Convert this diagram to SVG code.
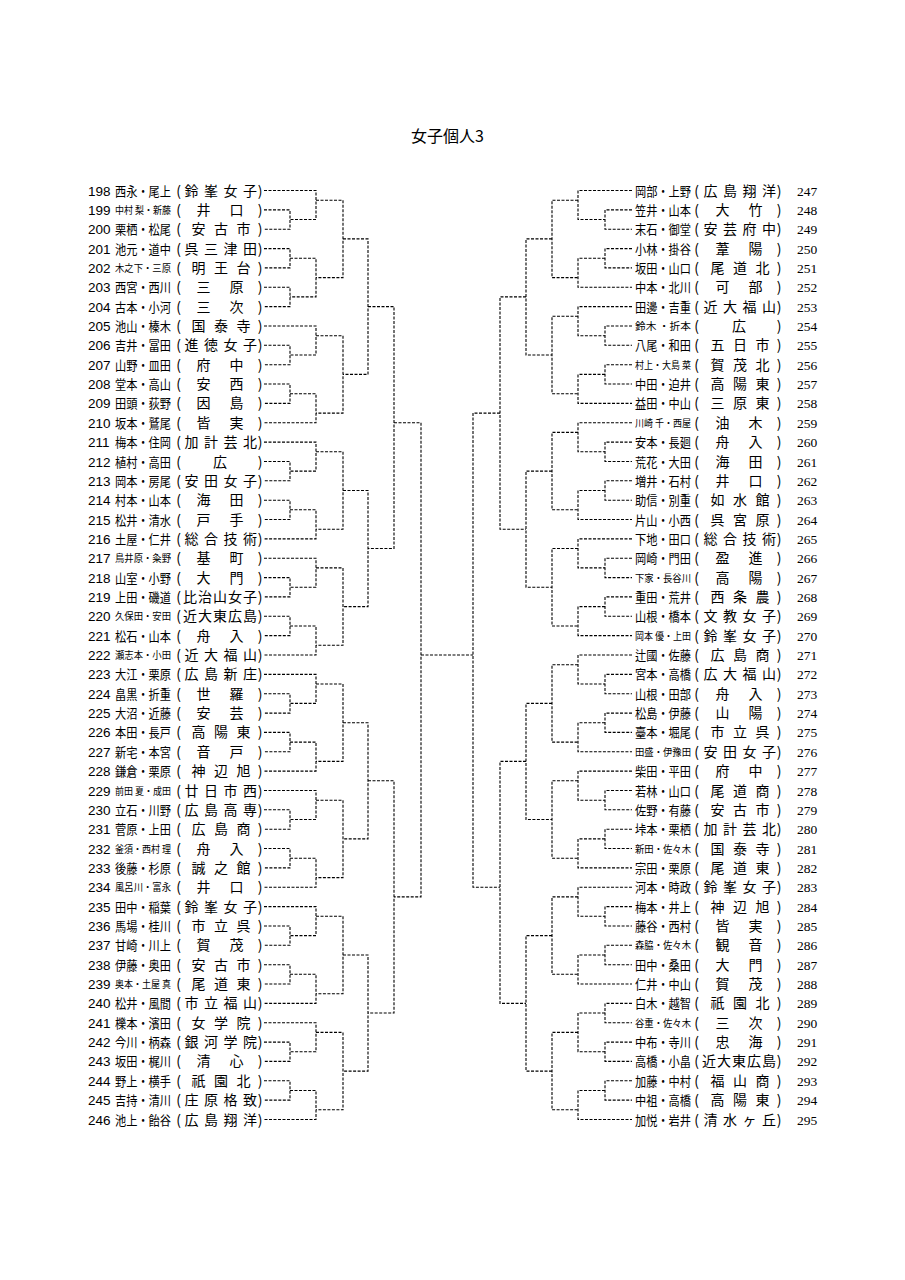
<svg xmlns="http://www.w3.org/2000/svg" width="905" height="1280" viewBox="0 0 905 1280">
<style>
.bg{fill:#fff}
.t{font-family:"Noto Sans CJK JP",sans-serif;font-size:16px;fill:#000}
.n{font-family:"Liberation Sans",sans-serif;font-size:13.5px;fill:#000}
.rn{font-family:"Liberation Serif",serif;font-size:13.5px;fill:#000}
.nm{font-family:"Noto Sans CJK JP",sans-serif;font-size:13px;fill:#000}
.s{font-size:10px}
.sc{font-family:"Noto Sans CJK JP",sans-serif;font-size:14px;text-anchor:middle;fill:#000}
.c path{fill:none;stroke:#000;stroke-width:1.1;stroke-dasharray:3 1.5}
</style>
<rect class="bg" x="0" y="0" width="905" height="1280"/>
<text id="title" class="t" x="411" y="142">女子個人3</text>
<g id="left">
<g id="n198" transform="translate(0,190.5)"><text class="n" x="88" y="5">198</text><text class="nm" x="115" y="5" textLength="56" lengthAdjust="spacingAndGlyphs">西永・尾上</text><text class="sc" x="178.5 191.5 211 230.5 250 260" y="5">(鈴峯女子)</text></g>
<g id="n199" transform="translate(0,209.9)"><text class="n" x="88" y="5">199</text><text class="nm s" x="115" y="4" textLength="56" lengthAdjust="spacingAndGlyphs">中村 梨・新藤</text><text class="sc" x="178.5 203.5 236.5 260" y="5">(井口)</text></g>
<g id="n200" transform="translate(0,229.2)"><text class="n" x="88" y="5">200</text><text class="nm" x="115" y="5" textLength="56" lengthAdjust="spacingAndGlyphs">栗栖・松尾</text><text class="sc" x="178.5 198.5 221 243.5 260" y="5">(安古市)</text></g>
<g id="n201" transform="translate(0,248.6)"><text class="n" x="88" y="5">201</text><text class="nm" x="115" y="5" textLength="56" lengthAdjust="spacingAndGlyphs">池元・道中</text><text class="sc" x="178.5 191.5 211 230.5 250 260" y="5">(呉三津田)</text></g>
<g id="n202" transform="translate(0,267.9)"><text class="n" x="88" y="5">202</text><text class="nm s" x="115" y="4" textLength="56" lengthAdjust="spacingAndGlyphs">木之下・三原</text><text class="sc" x="178.5 198.5 221 243.5 260" y="5">(明王台)</text></g>
<g id="n203" transform="translate(0,287.3)"><text class="n" x="88" y="5">203</text><text class="nm" x="115" y="5" textLength="56" lengthAdjust="spacingAndGlyphs">西宮・西川</text><text class="sc" x="178.5 203.5 236.5 260" y="5">(三原)</text></g>
<g id="n204" transform="translate(0,306.6)"><text class="n" x="88" y="5">204</text><text class="nm" x="115" y="5" textLength="56" lengthAdjust="spacingAndGlyphs">古本・小河</text><text class="sc" x="178.5 203.5 236.5 260" y="5">(三次)</text></g>
<g id="n205" transform="translate(0,326)"><text class="n" x="88" y="5">205</text><text class="nm" x="115" y="5" textLength="56" lengthAdjust="spacingAndGlyphs">池山・榛木</text><text class="sc" x="178.5 198.5 221 243.5 260" y="5">(国泰寺)</text></g>
<g id="n206" transform="translate(0,345.3)"><text class="n" x="88" y="5">206</text><text class="nm" x="115" y="5" textLength="56" lengthAdjust="spacingAndGlyphs">吉井・冨田</text><text class="sc" x="178.5 191.5 211 230.5 250 260" y="5">(進徳女子)</text></g>
<g id="n207" transform="translate(0,364.7)"><text class="n" x="88" y="5">207</text><text class="nm" x="115" y="5" textLength="56" lengthAdjust="spacingAndGlyphs">山野・皿田</text><text class="sc" x="178.5 203.5 236.5 260" y="5">(府中)</text></g>
<g id="n208" transform="translate(0,384)"><text class="n" x="88" y="5">208</text><text class="nm" x="115" y="5" textLength="56" lengthAdjust="spacingAndGlyphs">堂本・高山</text><text class="sc" x="178.5 203.5 236.5 260" y="5">(安西)</text></g>
<g id="n209" transform="translate(0,403.4)"><text class="n" x="88" y="5">209</text><text class="nm" x="115" y="5" textLength="56" lengthAdjust="spacingAndGlyphs">田頭・荻野</text><text class="sc" x="178.5 203.5 236.5 260" y="5">(因島)</text></g>
<g id="n210" transform="translate(0,422.7)"><text class="n" x="88" y="5">210</text><text class="nm" x="115" y="5" textLength="56" lengthAdjust="spacingAndGlyphs">坂本・鷲尾</text><text class="sc" x="178.5 203.5 236.5 260" y="5">(皆実)</text></g>
<g id="n211" transform="translate(0,442.1)"><text class="n" x="88" y="5">211</text><text class="nm" x="115" y="5" textLength="56" lengthAdjust="spacingAndGlyphs">梅本・住岡</text><text class="sc" x="178.5 191.5 211 230.5 250 260" y="5">(加計芸北)</text></g>
<g id="n212" transform="translate(0,461.5)"><text class="n" x="88" y="5">212</text><text class="nm" x="115" y="5" textLength="56" lengthAdjust="spacingAndGlyphs">植村・高田</text><text class="sc" x="178.5 220 260" y="5">(広)</text></g>
<g id="n213" transform="translate(0,480.8)"><text class="n" x="88" y="5">213</text><text class="nm" x="115" y="5" textLength="56" lengthAdjust="spacingAndGlyphs">岡本・房尾</text><text class="sc" x="178.5 191.5 211 230.5 250 260" y="5">(安田女子)</text></g>
<g id="n214" transform="translate(0,500.2)"><text class="n" x="88" y="5">214</text><text class="nm" x="115" y="5" textLength="56" lengthAdjust="spacingAndGlyphs">村本・山本</text><text class="sc" x="178.5 203.5 236.5 260" y="5">(海田)</text></g>
<g id="n215" transform="translate(0,519.5)"><text class="n" x="88" y="5">215</text><text class="nm" x="115" y="5" textLength="56" lengthAdjust="spacingAndGlyphs">松井・清水</text><text class="sc" x="178.5 203.5 236.5 260" y="5">(戸手)</text></g>
<g id="n216" transform="translate(0,538.9)"><text class="n" x="88" y="5">216</text><text class="nm" x="115" y="5" textLength="56" lengthAdjust="spacingAndGlyphs">土屋・仁井</text><text class="sc" x="178.5 191.5 211 230.5 250 260" y="5">(総合技術)</text></g>
<g id="n217" transform="translate(0,558.2)"><text class="n" x="88" y="5">217</text><text class="nm s" x="115" y="4" textLength="56" lengthAdjust="spacingAndGlyphs">鳥井原・粂野</text><text class="sc" x="178.5 203.5 236.5 260" y="5">(基町)</text></g>
<g id="n218" transform="translate(0,577.6)"><text class="n" x="88" y="5">218</text><text class="nm" x="115" y="5" textLength="56" lengthAdjust="spacingAndGlyphs">山室・小野</text><text class="sc" x="178.5 203.5 236.5 260" y="5">(大門)</text></g>
<g id="n219" transform="translate(0,596.9)"><text class="n" x="88" y="5">219</text><text class="nm" x="115" y="5" textLength="56" lengthAdjust="spacingAndGlyphs">上田・磯道</text><text class="sc" x="178.5 190 205 220 235 250 260" y="5">(比治山女子)</text></g>
<g id="n220" transform="translate(0,616.3)"><text class="n" x="88" y="5">220</text><text class="nm s" x="115" y="4" textLength="56" lengthAdjust="spacingAndGlyphs">久保田・安田</text><text class="sc" x="178.5 190 205 220 235 250 260" y="5">(近大東広島)</text></g>
<g id="n221" transform="translate(0,635.6)"><text class="n" x="88" y="5">221</text><text class="nm" x="115" y="5" textLength="56" lengthAdjust="spacingAndGlyphs">松石・山本</text><text class="sc" x="178.5 203.5 236.5 260" y="5">(舟入)</text></g>
<g id="n222" transform="translate(0,655)"><text class="n" x="88" y="5">222</text><text class="nm s" x="115" y="4" textLength="56" lengthAdjust="spacingAndGlyphs">瀬志本・小田</text><text class="sc" x="178.5 191.5 211 230.5 250 260" y="5">(近大福山)</text></g>
<g id="n223" transform="translate(0,674.4)"><text class="n" x="88" y="5">223</text><text class="nm" x="115" y="5" textLength="56" lengthAdjust="spacingAndGlyphs">大江・栗原</text><text class="sc" x="178.5 191.5 211 230.5 250 260" y="5">(広島新庄)</text></g>
<g id="n224" transform="translate(0,693.7)"><text class="n" x="88" y="5">224</text><text class="nm" x="115" y="5" textLength="56" lengthAdjust="spacingAndGlyphs">畠黒・折重</text><text class="sc" x="178.5 203.5 236.5 260" y="5">(世羅)</text></g>
<g id="n225" transform="translate(0,713.1)"><text class="n" x="88" y="5">225</text><text class="nm" x="115" y="5" textLength="56" lengthAdjust="spacingAndGlyphs">大沼・近藤</text><text class="sc" x="178.5 203.5 236.5 260" y="5">(安芸)</text></g>
<g id="n226" transform="translate(0,732.4)"><text class="n" x="88" y="5">226</text><text class="nm" x="115" y="5" textLength="56" lengthAdjust="spacingAndGlyphs">本田・長戸</text><text class="sc" x="178.5 198.5 221 243.5 260" y="5">(高陽東)</text></g>
<g id="n227" transform="translate(0,751.8)"><text class="n" x="88" y="5">227</text><text class="nm" x="115" y="5" textLength="56" lengthAdjust="spacingAndGlyphs">新宅・本宮</text><text class="sc" x="178.5 203.5 236.5 260" y="5">(音戸)</text></g>
<g id="n228" transform="translate(0,771.1)"><text class="n" x="88" y="5">228</text><text class="nm" x="115" y="5" textLength="56" lengthAdjust="spacingAndGlyphs">鎌倉・栗原</text><text class="sc" x="178.5 198.5 221 243.5 260" y="5">(神辺旭)</text></g>
<g id="n229" transform="translate(0,790.5)"><text class="n" x="88" y="5">229</text><text class="nm s" x="115" y="4" textLength="56" lengthAdjust="spacingAndGlyphs">前田 夏・成田</text><text class="sc" x="178.5 191.5 211 230.5 250 260" y="5">(廿日市西)</text></g>
<g id="n230" transform="translate(0,809.8)"><text class="n" x="88" y="5">230</text><text class="nm" x="115" y="5" textLength="56" lengthAdjust="spacingAndGlyphs">立石・川野</text><text class="sc" x="178.5 191.5 211 230.5 250 260" y="5">(広島高専)</text></g>
<g id="n231" transform="translate(0,829.2)"><text class="n" x="88" y="5">231</text><text class="nm" x="115" y="5" textLength="56" lengthAdjust="spacingAndGlyphs">菅原・上田</text><text class="sc" x="178.5 198.5 221 243.5 260" y="5">(広島商)</text></g>
<g id="n232" transform="translate(0,848.5)"><text class="n" x="88" y="5">232</text><text class="nm s" x="115" y="4" textLength="56" lengthAdjust="spacingAndGlyphs">釜須・西村 理</text><text class="sc" x="178.5 203.5 236.5 260" y="5">(舟入)</text></g>
<g id="n233" transform="translate(0,867.9)"><text class="n" x="88" y="5">233</text><text class="nm" x="115" y="5" textLength="56" lengthAdjust="spacingAndGlyphs">後藤・杉原</text><text class="sc" x="178.5 198.5 221 243.5 260" y="5">(誠之館)</text></g>
<g id="n234" transform="translate(0,887.2)"><text class="n" x="88" y="5">234</text><text class="nm s" x="115" y="4" textLength="56" lengthAdjust="spacingAndGlyphs">風呂川・富永</text><text class="sc" x="178.5 203.5 236.5 260" y="5">(井口)</text></g>
<g id="n235" transform="translate(0,906.6)"><text class="n" x="88" y="5">235</text><text class="nm" x="115" y="5" textLength="56" lengthAdjust="spacingAndGlyphs">田中・稲葉</text><text class="sc" x="178.5 191.5 211 230.5 250 260" y="5">(鈴峯女子)</text></g>
<g id="n236" transform="translate(0,926)"><text class="n" x="88" y="5">236</text><text class="nm" x="115" y="5" textLength="56" lengthAdjust="spacingAndGlyphs">馬場・桂川</text><text class="sc" x="178.5 198.5 221 243.5 260" y="5">(市立呉)</text></g>
<g id="n237" transform="translate(0,945.3)"><text class="n" x="88" y="5">237</text><text class="nm" x="115" y="5" textLength="56" lengthAdjust="spacingAndGlyphs">甘崎・川上</text><text class="sc" x="178.5 203.5 236.5 260" y="5">(賀茂)</text></g>
<g id="n238" transform="translate(0,964.7)"><text class="n" x="88" y="5">238</text><text class="nm" x="115" y="5" textLength="56" lengthAdjust="spacingAndGlyphs">伊藤・奥田</text><text class="sc" x="178.5 198.5 221 243.5 260" y="5">(安古市)</text></g>
<g id="n239" transform="translate(0,984)"><text class="n" x="88" y="5">239</text><text class="nm s" x="115" y="4" textLength="56" lengthAdjust="spacingAndGlyphs">奥本・土屋 真</text><text class="sc" x="178.5 198.5 221 243.5 260" y="5">(尾道東)</text></g>
<g id="n240" transform="translate(0,1003.4)"><text class="n" x="88" y="5">240</text><text class="nm" x="115" y="5" textLength="56" lengthAdjust="spacingAndGlyphs">松井・風間</text><text class="sc" x="178.5 191.5 211 230.5 250 260" y="5">(市立福山)</text></g>
<g id="n241" transform="translate(0,1022.7)"><text class="n" x="88" y="5">241</text><text class="nm" x="115" y="5" textLength="56" lengthAdjust="spacingAndGlyphs">櫟本・濱田</text><text class="sc" x="178.5 198.5 221 243.5 260" y="5">(女学院)</text></g>
<g id="n242" transform="translate(0,1042.1)"><text class="n" x="88" y="5">242</text><text class="nm" x="115" y="5" textLength="56" lengthAdjust="spacingAndGlyphs">今川・柄森</text><text class="sc" x="178.5 191.5 211 230.5 250 260" y="5">(銀河学院)</text></g>
<g id="n243" transform="translate(0,1061.4)"><text class="n" x="88" y="5">243</text><text class="nm" x="115" y="5" textLength="56" lengthAdjust="spacingAndGlyphs">坂田・梶川</text><text class="sc" x="178.5 203.5 236.5 260" y="5">(清心)</text></g>
<g id="n244" transform="translate(0,1080.8)"><text class="n" x="88" y="5">244</text><text class="nm" x="115" y="5" textLength="56" lengthAdjust="spacingAndGlyphs">野上・横手</text><text class="sc" x="178.5 198.5 221 243.5 260" y="5">(祇園北)</text></g>
<g id="n245" transform="translate(0,1100.1)"><text class="n" x="88" y="5">245</text><text class="nm" x="115" y="5" textLength="56" lengthAdjust="spacingAndGlyphs">吉持・清川</text><text class="sc" x="178.5 191.5 211 230.5 250 260" y="5">(庄原格致)</text></g>
<g id="n246" transform="translate(0,1119.5)"><text class="n" x="88" y="5">246</text><text class="nm" x="115" y="5" textLength="56" lengthAdjust="spacingAndGlyphs">池上・飴谷</text><text class="sc" x="178.5 191.5 211 230.5 250 260" y="5">(広島翔洋)</text></g>
</g>
<g id="right">
<g id="n247" transform="translate(0,190.5)"><text class="nm" x="635" y="5" textLength="56" lengthAdjust="spacingAndGlyphs">岡部・上野</text><text class="sc" x="696.5 710.5 730 749.5 769 779" y="5">(広島翔洋)</text><text class="rn" x="797" y="5">247</text></g>
<g id="n248" transform="translate(0,209.9)"><text class="nm" x="635" y="5" textLength="56" lengthAdjust="spacingAndGlyphs">笠井・山本</text><text class="sc" x="696.5 722.5 755.5 779" y="5">(大竹)</text><text class="rn" x="797" y="5">248</text></g>
<g id="n249" transform="translate(0,229.2)"><text class="nm" x="635" y="5" textLength="56" lengthAdjust="spacingAndGlyphs">末石・御堂</text><text class="sc" x="696.5 710.5 730 749.5 769 779" y="5">(安芸府中)</text><text class="rn" x="797" y="5">249</text></g>
<g id="n250" transform="translate(0,248.6)"><text class="nm" x="635" y="5" textLength="56" lengthAdjust="spacingAndGlyphs">小林・掛谷</text><text class="sc" x="696.5 722.5 755.5 779" y="5">(葦陽)</text><text class="rn" x="797" y="5">250</text></g>
<g id="n251" transform="translate(0,267.9)"><text class="nm" x="635" y="5" textLength="56" lengthAdjust="spacingAndGlyphs">坂田・山口</text><text class="sc" x="696.5 717.5 740 762.5 779" y="5">(尾道北)</text><text class="rn" x="797" y="5">251</text></g>
<g id="n252" transform="translate(0,287.3)"><text class="nm" x="635" y="5" textLength="56" lengthAdjust="spacingAndGlyphs">中本・北川</text><text class="sc" x="696.5 722.5 755.5 779" y="5">(可部)</text><text class="rn" x="797" y="5">252</text></g>
<g id="n253" transform="translate(0,306.6)"><text class="nm" x="635" y="5" textLength="56" lengthAdjust="spacingAndGlyphs">田邊・吉重</text><text class="sc" x="696.5 710.5 730 749.5 769 779" y="5">(近大福山)</text><text class="rn" x="797" y="5">253</text></g>
<g id="n254" transform="translate(0,326)"><text class="nm s" x="635" y="4" textLength="56" lengthAdjust="spacingAndGlyphs">鈴木 ・折本</text><text class="sc" x="696.5 739 779" y="5">(広)</text><text class="rn" x="797" y="5">254</text></g>
<g id="n255" transform="translate(0,345.3)"><text class="nm" x="635" y="5" textLength="56" lengthAdjust="spacingAndGlyphs">八尾・和田</text><text class="sc" x="696.5 717.5 740 762.5 779" y="5">(五日市)</text><text class="rn" x="797" y="5">255</text></g>
<g id="n256" transform="translate(0,364.7)"><text class="nm s" x="635" y="4" textLength="56" lengthAdjust="spacingAndGlyphs">村上・大島 菜</text><text class="sc" x="696.5 717.5 740 762.5 779" y="5">(賀茂北)</text><text class="rn" x="797" y="5">256</text></g>
<g id="n257" transform="translate(0,384)"><text class="nm" x="635" y="5" textLength="56" lengthAdjust="spacingAndGlyphs">中田・迫井</text><text class="sc" x="696.5 717.5 740 762.5 779" y="5">(高陽東)</text><text class="rn" x="797" y="5">257</text></g>
<g id="n258" transform="translate(0,403.4)"><text class="nm" x="635" y="5" textLength="56" lengthAdjust="spacingAndGlyphs">益田・中山</text><text class="sc" x="696.5 717.5 740 762.5 779" y="5">(三原東)</text><text class="rn" x="797" y="5">258</text></g>
<g id="n259" transform="translate(0,422.7)"><text class="nm s" x="635" y="4" textLength="56" lengthAdjust="spacingAndGlyphs">川崎 千・西屋</text><text class="sc" x="696.5 722.5 755.5 779" y="5">(油木)</text><text class="rn" x="797" y="5">259</text></g>
<g id="n260" transform="translate(0,442.1)"><text class="nm" x="635" y="5" textLength="56" lengthAdjust="spacingAndGlyphs">安本・長廻</text><text class="sc" x="696.5 722.5 755.5 779" y="5">(舟入)</text><text class="rn" x="797" y="5">260</text></g>
<g id="n261" transform="translate(0,461.5)"><text class="nm" x="635" y="5" textLength="56" lengthAdjust="spacingAndGlyphs">荒花・大田</text><text class="sc" x="696.5 722.5 755.5 779" y="5">(海田)</text><text class="rn" x="797" y="5">261</text></g>
<g id="n262" transform="translate(0,480.8)"><text class="nm" x="635" y="5" textLength="56" lengthAdjust="spacingAndGlyphs">増井・石村</text><text class="sc" x="696.5 722.5 755.5 779" y="5">(井口)</text><text class="rn" x="797" y="5">262</text></g>
<g id="n263" transform="translate(0,500.2)"><text class="nm" x="635" y="5" textLength="56" lengthAdjust="spacingAndGlyphs">助信・別重</text><text class="sc" x="696.5 717.5 740 762.5 779" y="5">(如水館)</text><text class="rn" x="797" y="5">263</text></g>
<g id="n264" transform="translate(0,519.5)"><text class="nm" x="635" y="5" textLength="56" lengthAdjust="spacingAndGlyphs">片山・小西</text><text class="sc" x="696.5 717.5 740 762.5 779" y="5">(呉宮原)</text><text class="rn" x="797" y="5">264</text></g>
<g id="n265" transform="translate(0,538.9)"><text class="nm" x="635" y="5" textLength="56" lengthAdjust="spacingAndGlyphs">下地・田口</text><text class="sc" x="696.5 710.5 730 749.5 769 779" y="5">(総合技術)</text><text class="rn" x="797" y="5">265</text></g>
<g id="n266" transform="translate(0,558.2)"><text class="nm" x="635" y="5" textLength="56" lengthAdjust="spacingAndGlyphs">岡崎・門田</text><text class="sc" x="696.5 722.5 755.5 779" y="5">(盈進)</text><text class="rn" x="797" y="5">266</text></g>
<g id="n267" transform="translate(0,577.6)"><text class="nm s" x="635" y="4" textLength="56" lengthAdjust="spacingAndGlyphs">下家・長谷川</text><text class="sc" x="696.5 722.5 755.5 779" y="5">(高陽)</text><text class="rn" x="797" y="5">267</text></g>
<g id="n268" transform="translate(0,596.9)"><text class="nm" x="635" y="5" textLength="56" lengthAdjust="spacingAndGlyphs">重田・荒井</text><text class="sc" x="696.5 717.5 740 762.5 779" y="5">(西条農)</text><text class="rn" x="797" y="5">268</text></g>
<g id="n269" transform="translate(0,616.3)"><text class="nm" x="635" y="5" textLength="56" lengthAdjust="spacingAndGlyphs">山根・橋本</text><text class="sc" x="696.5 710.5 730 749.5 769 779" y="5">(文教女子)</text><text class="rn" x="797" y="5">269</text></g>
<g id="n270" transform="translate(0,635.6)"><text class="nm s" x="635" y="4" textLength="56" lengthAdjust="spacingAndGlyphs">岡本 優・上田</text><text class="sc" x="696.5 710.5 730 749.5 769 779" y="5">(鈴峯女子)</text><text class="rn" x="797" y="5">270</text></g>
<g id="n271" transform="translate(0,655)"><text class="nm" x="635" y="5" textLength="56" lengthAdjust="spacingAndGlyphs">辻國・佐藤</text><text class="sc" x="696.5 717.5 740 762.5 779" y="5">(広島商)</text><text class="rn" x="797" y="5">271</text></g>
<g id="n272" transform="translate(0,674.4)"><text class="nm" x="635" y="5" textLength="56" lengthAdjust="spacingAndGlyphs">宮本・高橋</text><text class="sc" x="696.5 710.5 730 749.5 769 779" y="5">(広大福山)</text><text class="rn" x="797" y="5">272</text></g>
<g id="n273" transform="translate(0,693.7)"><text class="nm" x="635" y="5" textLength="56" lengthAdjust="spacingAndGlyphs">山根・田部</text><text class="sc" x="696.5 722.5 755.5 779" y="5">(舟入)</text><text class="rn" x="797" y="5">273</text></g>
<g id="n274" transform="translate(0,713.1)"><text class="nm" x="635" y="5" textLength="56" lengthAdjust="spacingAndGlyphs">松島・伊藤</text><text class="sc" x="696.5 722.5 755.5 779" y="5">(山陽)</text><text class="rn" x="797" y="5">274</text></g>
<g id="n275" transform="translate(0,732.4)"><text class="nm" x="635" y="5" textLength="56" lengthAdjust="spacingAndGlyphs">臺本・堀尾</text><text class="sc" x="696.5 717.5 740 762.5 779" y="5">(市立呉)</text><text class="rn" x="797" y="5">275</text></g>
<g id="n276" transform="translate(0,751.8)"><text class="nm s" x="635" y="4" textLength="56" lengthAdjust="spacingAndGlyphs">田盛・伊豫田</text><text class="sc" x="696.5 710.5 730 749.5 769 779" y="5">(安田女子)</text><text class="rn" x="797" y="5">276</text></g>
<g id="n277" transform="translate(0,771.1)"><text class="nm" x="635" y="5" textLength="56" lengthAdjust="spacingAndGlyphs">柴田・平田</text><text class="sc" x="696.5 722.5 755.5 779" y="5">(府中)</text><text class="rn" x="797" y="5">277</text></g>
<g id="n278" transform="translate(0,790.5)"><text class="nm" x="635" y="5" textLength="56" lengthAdjust="spacingAndGlyphs">若林・山口</text><text class="sc" x="696.5 717.5 740 762.5 779" y="5">(尾道商)</text><text class="rn" x="797" y="5">278</text></g>
<g id="n279" transform="translate(0,809.8)"><text class="nm" x="635" y="5" textLength="56" lengthAdjust="spacingAndGlyphs">佐野・有藤</text><text class="sc" x="696.5 717.5 740 762.5 779" y="5">(安古市)</text><text class="rn" x="797" y="5">279</text></g>
<g id="n280" transform="translate(0,829.2)"><text class="nm" x="635" y="5" textLength="56" lengthAdjust="spacingAndGlyphs">垰本・栗栖</text><text class="sc" x="696.5 710.5 730 749.5 769 779" y="5">(加計芸北)</text><text class="rn" x="797" y="5">280</text></g>
<g id="n281" transform="translate(0,848.5)"><text class="nm s" x="635" y="4" textLength="56" lengthAdjust="spacingAndGlyphs">新田・佐々木</text><text class="sc" x="696.5 717.5 740 762.5 779" y="5">(国泰寺)</text><text class="rn" x="797" y="5">281</text></g>
<g id="n282" transform="translate(0,867.9)"><text class="nm" x="635" y="5" textLength="56" lengthAdjust="spacingAndGlyphs">宗田・栗原</text><text class="sc" x="696.5 717.5 740 762.5 779" y="5">(尾道東)</text><text class="rn" x="797" y="5">282</text></g>
<g id="n283" transform="translate(0,887.2)"><text class="nm" x="635" y="5" textLength="56" lengthAdjust="spacingAndGlyphs">河本・時政</text><text class="sc" x="696.5 710.5 730 749.5 769 779" y="5">(鈴峯女子)</text><text class="rn" x="797" y="5">283</text></g>
<g id="n284" transform="translate(0,906.6)"><text class="nm" x="635" y="5" textLength="56" lengthAdjust="spacingAndGlyphs">梅本・井上</text><text class="sc" x="696.5 717.5 740 762.5 779" y="5">(神辺旭)</text><text class="rn" x="797" y="5">284</text></g>
<g id="n285" transform="translate(0,926)"><text class="nm" x="635" y="5" textLength="56" lengthAdjust="spacingAndGlyphs">藤谷・西村</text><text class="sc" x="696.5 722.5 755.5 779" y="5">(皆実)</text><text class="rn" x="797" y="5">285</text></g>
<g id="n286" transform="translate(0,945.3)"><text class="nm s" x="635" y="4" textLength="56" lengthAdjust="spacingAndGlyphs">森脇・佐々木</text><text class="sc" x="696.5 722.5 755.5 779" y="5">(観音)</text><text class="rn" x="797" y="5">286</text></g>
<g id="n287" transform="translate(0,964.7)"><text class="nm" x="635" y="5" textLength="56" lengthAdjust="spacingAndGlyphs">田中・桑田</text><text class="sc" x="696.5 722.5 755.5 779" y="5">(大門)</text><text class="rn" x="797" y="5">287</text></g>
<g id="n288" transform="translate(0,984)"><text class="nm" x="635" y="5" textLength="56" lengthAdjust="spacingAndGlyphs">仁井・中山</text><text class="sc" x="696.5 722.5 755.5 779" y="5">(賀茂)</text><text class="rn" x="797" y="5">288</text></g>
<g id="n289" transform="translate(0,1003.4)"><text class="nm" x="635" y="5" textLength="56" lengthAdjust="spacingAndGlyphs">白木・越智</text><text class="sc" x="696.5 717.5 740 762.5 779" y="5">(祇園北)</text><text class="rn" x="797" y="5">289</text></g>
<g id="n290" transform="translate(0,1022.7)"><text class="nm s" x="635" y="4" textLength="56" lengthAdjust="spacingAndGlyphs">谷重・佐々木</text><text class="sc" x="696.5 722.5 755.5 779" y="5">(三次)</text><text class="rn" x="797" y="5">290</text></g>
<g id="n291" transform="translate(0,1042.1)"><text class="nm" x="635" y="5" textLength="56" lengthAdjust="spacingAndGlyphs">中布・寺川</text><text class="sc" x="696.5 722.5 755.5 779" y="5">(忠海)</text><text class="rn" x="797" y="5">291</text></g>
<g id="n292" transform="translate(0,1061.4)"><text class="nm" x="635" y="5" textLength="56" lengthAdjust="spacingAndGlyphs">高橋・小畠</text><text class="sc" x="696.5 709 724 739 754 769 779" y="5">(近大東広島)</text><text class="rn" x="797" y="5">292</text></g>
<g id="n293" transform="translate(0,1080.8)"><text class="nm" x="635" y="5" textLength="56" lengthAdjust="spacingAndGlyphs">加藤・中村</text><text class="sc" x="696.5 717.5 740 762.5 779" y="5">(福山商)</text><text class="rn" x="797" y="5">293</text></g>
<g id="n294" transform="translate(0,1100.1)"><text class="nm" x="635" y="5" textLength="56" lengthAdjust="spacingAndGlyphs">中祖・高橋</text><text class="sc" x="696.5 717.5 740 762.5 779" y="5">(高陽東)</text><text class="rn" x="797" y="5">294</text></g>
<g id="n295" transform="translate(0,1119.5)"><text class="nm" x="635" y="5" textLength="56" lengthAdjust="spacingAndGlyphs">加悦・岩井</text><text class="sc" x="696.5 710.5 730 749.5 769 779" y="5">(清水ヶ丘)</text><text class="rn" x="797" y="5">295</text></g>
</g>
<g id="connectors" class="c">
<path d="M264 209.9H290V229.2H264M264 248.6H290V267.9H264M264 287.3H290V306.6H264M264 345.3H290V364.7H264M264 384H290V403.4H264M264 461.5H290V480.8H264M264 500.2H290V519.5H264M264 577.6H290V596.9H264M264 616.3H290V635.6H264M264 693.7H290V713.1H264M264 732.4H290V751.8H264M264 809.8H290V829.2H264M264 848.5H290V867.9H264M264 926H290V945.3H264M264 964.7H290V984H264M264 1042.1H290V1061.4H264M264 1080.8H290V1100.1H264"/>
<path d="M264 190.5H316V219.5H290M290 258.2H316V296.9H290M264 326H316V355H290M290 393.7H316V422.7H264M264 442.1H316V471.1H290M290 509.8H316V538.9H264M264 558.2H316V587.3H290M290 626H316V655H264M264 674.4H316V703.4H290M290 742.1H316V771.1H264M264 790.5H316V819.5H290M290 858.2H316V887.2H264M264 906.6H316V935.6H290M290 974.3H316V1003.4H264M264 1022.7H316V1051.8H290M290 1090.5H316V1119.5H264"/>
<path d="M316 200.2H343V277.6H316M316 335.7H343V413.1H316M316 451.8H343V529.2H316M316 567.9H343V645.3H316M316 684H343V761.4H316M316 800.2H343V877.6H316M316 916.3H343V993.7H316M316 1032.4H343V1109.8H316"/>
<path d="M343 238.9H368V374.4H343M343 490.5H368V606.6H343M343 722.7H368V838.9H343M343 955H368V1071.1H343"/>
<path d="M368 306.6H394V548.5H368M368 780.8H394V1013H368"/>
<path d="M394 422.7H421V896.9H394"/>
<path d="M421 655H473"/>
<path d="M500 413.1H473V887.2H500"/>
<path d="M526 296.9H500V529.2H526M526 761.4H500V1003.4H526"/>
<path d="M552 238.9H526V355H552M552 471.1H526V587.3H552M552 703.4H526V819.5H552M552 935.6H526V1071.1H552"/>
<path d="M578 200.2H552V277.6H578M578 316.3H552V393.7H578M578 432.4H552V509.8H578M578 548.5H552V626H578M578 664.7H552V742.1H578M578 780.8H552V858.2H578M578 896.9H552V974.3H578M578 1032.4H552V1109.8H578"/>
<path d="M632 190.5H578V219.5H605M605 258.2H578V287.3H632M632 306.6H578V335.7H605M605 374.4H578V403.4H632M632 422.7H578V451.8H605M605 490.5H578V519.5H632M632 538.9H578V567.9H605M605 606.6H578V635.6H632M632 655H578V684H605M605 722.7H578V751.8H632M632 771.1H578V800.2H605M605 838.9H578V867.9H632M632 887.2H578V916.3H605M605 955H578V984H632M605 1013H578V1051.8H605M605 1090.5H578V1119.5H632"/>
<path d="M632 209.9H605V229.2H632M632 248.6H605V267.9H632M632 326H605V345.3H632M632 364.7H605V384H632M632 442.1H605V461.5H632M632 480.8H605V500.2H632M632 558.2H605V577.6H632M632 596.9H605V616.3H632M632 674.4H605V693.7H632M632 713.1H605V732.4H632M632 790.5H605V809.8H632M632 829.2H605V848.5H632M632 906.6H605V926H632M632 945.3H605V964.7H632M632 1003.4H605V1022.7H632M632 1042.1H605V1061.4H632M632 1080.8H605V1100.1H632"/>
</g>
</svg>
